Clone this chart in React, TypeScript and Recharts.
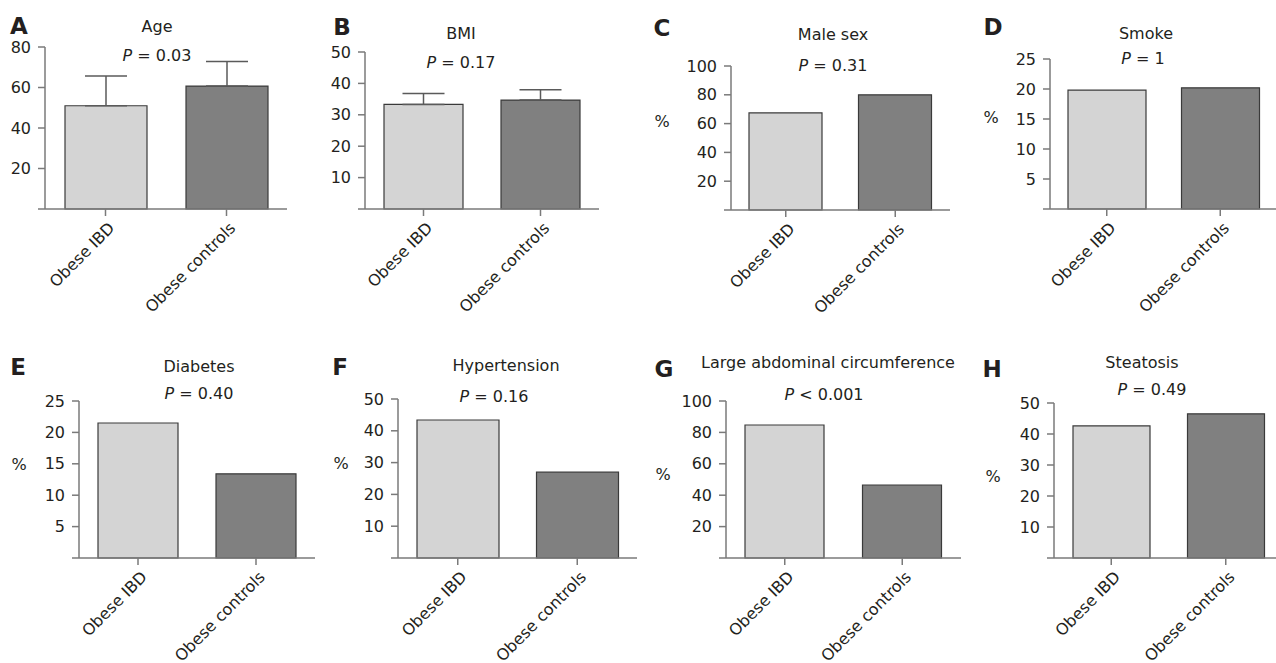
import React from 'react';
import { BarChart, Bar, XAxis, YAxis, Cell, ErrorBar } from 'recharts';

const groups = ['Obese IBD', 'Obese controls'];

const ageMean = [51.0, 60.7];
const ageSd = [14.7, 12.2];
const bmiMean = [33.3, 34.7];
const bmiSd = [3.5, 3.3];
const maleSex = [67.4, 80.0];
const smoke = [19.8, 20.2];
const diabetes = [21.5, 13.4];
const hypertension = [43.4, 27.0];
const abdominal = [84.7, 46.5];
const steatosis = [42.6, 46.5];

const titles = ['Age', 'BMI', 'Male sex', 'Smoke', 'Diabetes', 'Hypertension', 'Large abdominal circumference', 'Steatosis'];
const pTexts = ['= 0.03', '= 0.17', '= 0.31', '= 1', '= 0.40', '= 0.16', '< 0.001', '= 0.49'];
const letters = ['A', 'B', 'C', 'D', 'E', 'F', 'G', 'H'];

const ticks80 = [0, 20, 40, 60, 80];
const ticks50 = [0, 10, 20, 30, 40, 50];
const ticks100 = [0, 20, 40, 60, 80, 100];
const ticks25 = [0, 5, 10, 15, 20, 25];

const FONT = '"DejaVu Sans", Verdana, sans-serif';
const INK = '#231f20';
const AXIS = '#7a7a7a';
const FILLS = ['#d4d4d4', '#808080'];

const build = (vals: number[], sd?: number[]) =>
  groups.map((g, i) => ({ name: g, value: vals[i], err: sd ? [0, sd[i]] : undefined }));

// layout of each panel (pixel positions on the page)
const panels = [
  { data: build(ageMean, ageSd), ticks: ticks80, axisX: 45, topY: 47, baseY: 209, right: 287, bar: 82,
    letter: [19, 26], title: [157, 27], p: [157, 56], unit: null },
  { data: build(bmiMean, bmiSd), ticks: ticks50, axisX: 365, topY: 52, baseY: 209, right: 599, bar: 79,
    letter: [342, 27], title: [461, 34], p: [461, 63], unit: null },
  { data: build(maleSex), ticks: ticks100, axisX: 731, topY: 66, baseY: 210, right: 950, bar: 73,
    letter: [662, 28], title: [833, 35], p: [833, 66], unit: [662, 122] },
  { data: build(smoke), ticks: ticks25, axisX: 1050, topY: 59, baseY: 209, right: 1277, bar: 78,
    letter: [993, 27], title: [1146, 34], p: [1143, 59], unit: [991, 118] },
  { data: build(diabetes), ticks: ticks25, axisX: 79, topY: 401, baseY: 558, right: 315, bar: 80,
    letter: [18, 367], title: [199, 367], p: [199, 394], unit: [19, 465] },
  { data: build(hypertension), ticks: ticks50, axisX: 398, topY: 399, baseY: 558, right: 637, bar: 82,
    letter: [340, 367], title: [506, 366], p: [494, 397], unit: [341, 464] },
  { data: build(abdominal), ticks: ticks100, axisX: 726, topY: 401, baseY: 558, right: 961, bar: 79,
    letter: [664, 369], title: [828, 363], p: [824, 395], unit: [663, 475] },
  { data: build(steatosis), ticks: ticks50, axisX: 1054, topY: 403, baseY: 558, right: 1283, bar: 77,
    letter: [992, 369], title: [1142, 363], p: [1152, 390], unit: [993, 477] },
];

const ML = 60;
const MT = 12;
const XH = 140;

const AngledTick = (props: any) => {
  const { x, y, payload } = props;
  return (
    <g transform={`translate(${x + 10},${y + 11}) rotate(-45)`}>
      <text x={0} y={0} textAnchor="end" fontSize={16} fill={INK} fontFamily={FONT}>
        {payload.value}
      </text>
    </g>
  );
};

const Txt = ({ at, children, size = 16, bold = false }: any) => (
  <div
    style={{
      position: 'absolute',
      left: at[0],
      top: at[1],
      transform: 'translate(-50%, -50%)',
      fontFamily: FONT,
      fontSize: size,
      fontWeight: bold ? 'bold' : 'normal',
      color: INK,
      lineHeight: 1,
      whiteSpace: 'nowrap',
    }}
  >
    {children}
  </div>
);

const Panel = ({ cfg, idx }: any) => {
  const plotW = cfg.right - cfg.axisX;
  const plotH = cfg.baseY - cfg.topY;
  const max = cfg.ticks[cfg.ticks.length - 1];
  return (
    <>
      <div style={{ position: 'absolute', left: cfg.axisX - ML, top: cfg.topY - MT }}>
        <BarChart
          width={ML + plotW + 2}
          height={MT + plotH + XH}
          data={cfg.data}
          margin={{ top: MT, right: 2, bottom: 0, left: 0 }}
        >
          <XAxis
            dataKey="name"
            interval={0}
            height={XH}
            tickSize={7}
            axisLine={{ stroke: AXIS, strokeWidth: 1.5 }}
            tickLine={{ stroke: AXIS, strokeWidth: 1.5 }}
            tick={<AngledTick />}
          />
          <YAxis
            width={ML}
            domain={[0, max]}
            ticks={cfg.ticks}
            tickSize={7}
            tickMargin={7}
            interval={0}
            axisLine={{ stroke: AXIS, strokeWidth: 1.5 }}
            tickLine={{ stroke: AXIS, strokeWidth: 1.5 }}
            tick={{ fill: INK, fontSize: 16, fontFamily: FONT }}
            tickFormatter={(v: number) => (v === 0 ? '' : String(v))}
          />
          <Bar dataKey="value" barSize={cfg.bar} stroke="#3a3a3a" strokeWidth={1.2} isAnimationActive={false}>
            {cfg.data.map((_: any, i: number) => (
              <Cell key={i} fill={FILLS[i]} />
            ))}
            {cfg.data[0].err ? (
              <ErrorBar dataKey="err" width={21} stroke="#5a5a5a" strokeWidth={1.5} direction="y" isAnimationActive={false} />
            ) : null}
          </Bar>
        </BarChart>
      </div>
      <Txt at={cfg.letter} size={23} bold>{letters[idx]}</Txt>
      <Txt at={cfg.title}>{titles[idx]}</Txt>
      <Txt at={cfg.p}>
        <i>P</i> {pTexts[idx]}
      </Txt>
      {cfg.unit ? <Txt at={cfg.unit}>%</Txt> : null}
    </>
  );
};

export default function App() {
  return (
    <div
      style={{
        position: 'absolute',
        left: 0,
        top: 0,
        width: 1276,
        height: 663,
        overflow: 'hidden',
        background: '#fff',
      }}
    >
      {panels.map((cfg, i) => (
        <Panel key={i} cfg={cfg} idx={i} />
      ))}
    </div>
  );
}
